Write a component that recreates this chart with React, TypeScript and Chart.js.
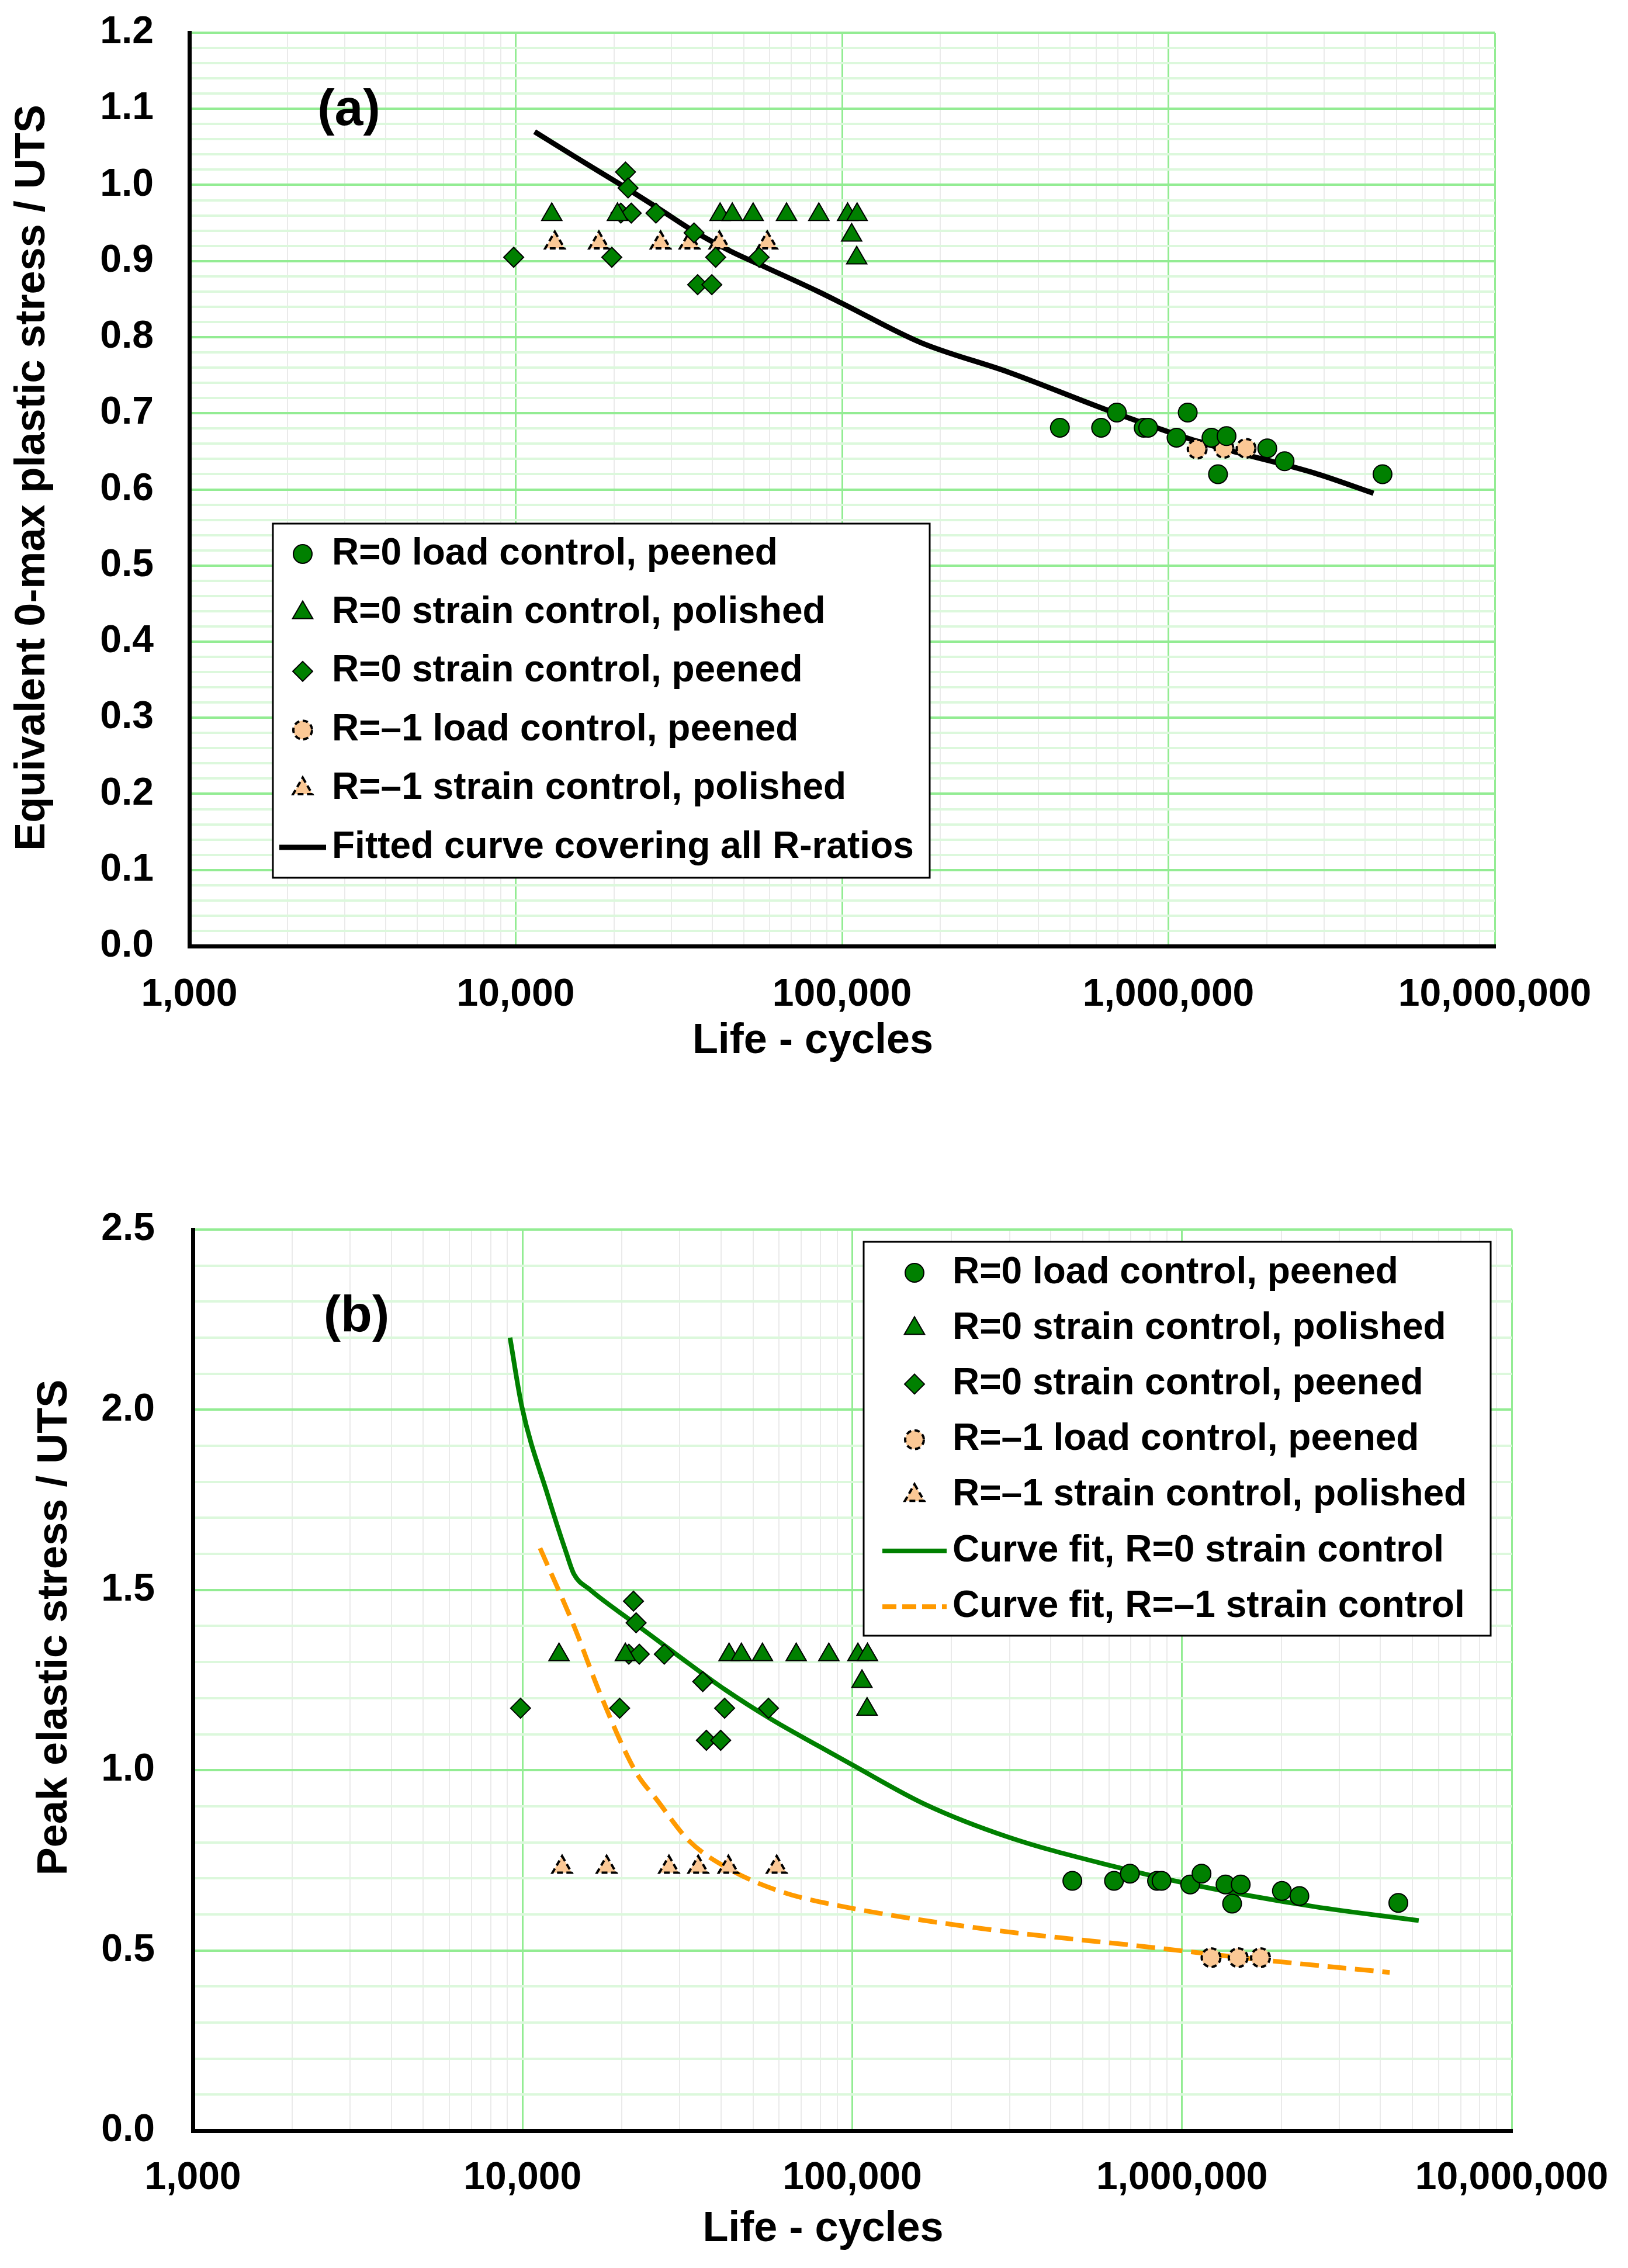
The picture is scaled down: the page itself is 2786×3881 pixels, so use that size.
import React, { useEffect, useRef } from 'react';
import { Chart, registerables } from 'chart.js';
import { drawPoint } from 'chart.js/helpers';

Chart.register(...registerables);

// ---------------- data ----------------
const xDecades = [1000, 10000, 100000, 1000000, 10000000];
const xTickLabels = ['1,000', '10,000', '100,000', '1,000,000', '10,000,000'];

const yLabelsA = [0, 0.1, 0.2, 0.3, 0.4, 0.5, 0.6, 0.7, 0.8, 0.9, 1.0, 1.1, 1.2];
const yLabelsB = [0, 0.5, 1.0, 1.5, 2.0, 2.5];

const seriesLabels = [
  'R=0 load control, peened',
  'R=0 strain control, polished',
  'R=0 strain control, peened',
  'R=\u20131 load control, peened',
  'R=\u20131 strain control, polished',
];
const fitLabelA = 'Fitted curve covering all R-ratios';
const fitLabelsB = ['Curve fit, R=0 strain control', 'Curve fit, R=\u20131 strain control'];

// R=0 load control, peened (circles)
const r0LoadLife = [465000, 622000, 695000, 840000, 867000, 1059000, 1146000, 1355000, 1507000, 1419000, 2009000, 2270000, 4530000];
const r0LoadA = [0.681, 0.681, 0.701, 0.681, 0.681, 0.668, 0.701, 0.668, 0.670, 0.620, 0.654, 0.637, 0.620];
const r0LoadB = [0.693, 0.693, 0.713, 0.693, 0.693, 0.683, 0.713, 0.683, 0.683, 0.630, 0.665, 0.651, 0.632];

// R=0 strain control, polished (triangles)
const r0StrainPolLife = [12900, 20500, 42300, 46100, 53400, 67600, 84900, 104000, 111200, 107000, 110900];
const r0StrainPolA = [0.961, 0.961, 0.961, 0.961, 0.961, 0.961, 0.961, 0.961, 0.961, 0.934, 0.904];
const r0StrainPolB = [1.32, 1.32, 1.32, 1.32, 1.32, 1.32, 1.32, 1.32, 1.32, 1.246, 1.169];

// R=0 strain control, peened (diamonds)
const r0StrainPeenLife = [9860, 19700, 21700, 22100, 21000, 22600, 26900, 35200, 41000, 36100, 39900, 55700];
const r0StrainPeenA = [0.905, 0.905, 1.017, 0.996, 0.963, 0.963, 0.963, 0.937, 0.905, 0.869, 0.869, 0.905];
const r0StrainPeenB = [1.172, 1.172, 1.469, 1.409, 1.322, 1.322, 1.322, 1.246, 1.172, 1.083, 1.083, 1.172];

// R=-1 load control, peened (peach circles)
const rm1LoadLife = [1225000, 1480000, 1730000];
const rm1LoadA = [0.653, 0.654, 0.654];
const rm1LoadB = [0.480, 0.480, 0.480];

// R=-1 strain control, polished (peach triangles)
const rm1StrainLife = [13180, 17990, 27800, 34100, 42100, 59000];
const rm1StrainA = [0.924, 0.924, 0.924, 0.924, 0.924, 0.924];
const rm1StrainB = [0.731, 0.731, 0.731, 0.731, 0.731, 0.731];

// Fitted curve (a)
const fitALife = [11430, 15070, 21800, 27200, 35200, 45500, 58900, 84500, 100500, 174000, 324000, 681000, 1274000, 2780000, 4250000];
const fitAValue = [1.070, 1.038, 0.996, 0.970, 0.939, 0.913, 0.891, 0.860, 0.844, 0.793, 0.754, 0.701, 0.661, 0.622, 0.595];

// Curve fit R=0 strain control (b)
const fitR0Life = [9160, 9950, 11940, 13550, 14320, 15960, 21780, 29720, 41210, 57150, 78700, 99100, 166700, 298500, 622300, 1069000, 2506000, 5224000];
const fitR0Value = [2.200, 2.009, 1.761, 1.605, 1.544, 1.502, 1.409, 1.317, 1.223, 1.140, 1.068, 1.017, 0.905, 0.814, 0.733, 0.683, 0.622, 0.583];

// Curve fit R=-1 strain control (b)
const fitRm1Life = [11300, 14320, 17180, 21900, 25640, 31920, 42660, 61380, 93500, 246000, 783000, 1702000, 4266000];
const fitRm1Value = [1.616, 1.400, 1.213, 1.000, 0.916, 0.805, 0.724, 0.662, 0.622, 0.561, 0.510, 0.475, 0.439];

// ---------------- styling ----------------
const FONT = '"Liberation Sans", Arial, Helvetica, sans-serif';
const GREEN = '#008000';
const PEACH = '#FBC895';
const ORANGE = '#FF9A00';
const GRID_MAIN = '#93EC93';
const GRID_MINOR = '#DCF8DC';
const GRID_X_MINOR = '#EAEAEA';

const pts = (xs: number[], ys: number[]) => xs.map((x, i) => ({ x, y: ys[i] }));

function markerSet(label: string, xs: number[], ys: number[], style: string, radius: number, fill: string, bw: number, dash?: number[]) {
  return {
    label,
    data: pts(xs, ys),
    showLine: false,
    pointStyle: style,
    pointRadius: radius,
    pointHoverRadius: radius,
    pointBackgroundColor: fill,
    pointBorderColor: '#000',
    pointBorderWidth: bw,
    pointHoverBorderWidth: bw,
    backgroundColor: fill,
    borderColor: '#000',
    markerDash: dash || null,
  };
}

function curveSet(label: string, xs: number[], ys: number[], color: string, width: number, dash?: number[]) {
  return {
    label,
    data: pts(xs, ys),
    showLine: true,
    pointRadius: 0,
    pointHoverRadius: 0,
    borderColor: color,
    backgroundColor: color,
    borderWidth: width,
    borderDash: dash || [],
    borderCapStyle: 'butt',
    cubicInterpolationMode: 'monotone',
    fill: false,
  };
}

function markerSets(ys: { load: number[]; pol: number[]; peen: number[]; rm1Load: number[]; rm1Strain: number[] }) {
  return [
    markerSet(seriesLabels[0], r0LoadLife, ys.load, 'circle', 16, GREEN, 2),
    markerSet(seriesLabels[1], r0StrainPolLife, ys.pol, 'triangle', 20, GREEN, 2),
    markerSet(seriesLabels[2], r0StrainPeenLife, ys.peen, 'rectRot', 17, GREEN, 2),
    markerSet(seriesLabels[3], rm1LoadLife, ys.rm1Load, 'circle', 16, PEACH, 4, [9, 6]),
    markerSet(seriesLabels[4], rm1StrainLife, ys.rm1Strain, 'triangle', 19, PEACH, 4, [10, 6]),
  ];
}

type Layout = {
  height: number;
  pad: { top: number; right: number; bottom: number };
  yWidth: number;
  xHeight: number;
  xTickPad: number;
  yTickPad: number;
  xTitlePad: number;
  yTitlePad: number;
  legend: { left: number; top: number; width: number; height: number; markerX: number; textX: number; lineX0: number; lineX1: number; row0: number; step: number };
  tag: { text: string; x: number; y: number };
};

function makePlugins(L: Layout) {
  const dashPlugin = {
    id: 'markerDash',
    beforeDatasetDraw(chart: any, args: any) {
      const ds = chart.data.datasets[args.index];
      chart.ctx.save();
      if (ds.markerDash) chart.ctx.setLineDash(ds.markerDash);
    },
    afterDatasetDraw(chart: any) {
      chart.ctx.restore();
    },
  };
  const legendPlugin = {
    id: 'boxLegend',
    afterDraw(chart: any) {
      const ctx = chart.ctx as CanvasRenderingContext2D;
      const g = L.legend;
      ctx.save();
      ctx.setLineDash([]);
      ctx.fillStyle = '#ffffff';
      ctx.fillRect(g.left, g.top, g.width, g.height);
      ctx.lineWidth = 3;
      ctx.strokeStyle = '#000';
      ctx.strokeRect(g.left, g.top, g.width, g.height);
      chart.data.datasets.forEach((ds: any, i: number) => {
        const y = g.row0 + i * g.step;
        ctx.save();
        if (ds.showLine) {
          ctx.strokeStyle = ds.borderColor;
          ctx.lineWidth = ds.borderWidth;
          ctx.lineCap = 'butt';
          ctx.setLineDash(ds.borderDash && ds.borderDash.length ? [24, 10] : []);
          ctx.beginPath();
          ctx.moveTo(g.lineX0, y);
          ctx.lineTo(g.lineX1, y);
          ctx.stroke();
        } else {
          ctx.setLineDash(ds.markerDash || []);
          ctx.fillStyle = ds.pointBackgroundColor;
          ctx.strokeStyle = ds.pointBorderColor;
          ctx.lineWidth = ds.pointBorderWidth;
          drawPoint(ctx, { pointStyle: ds.pointStyle, rotation: 0, radius: ds.pointRadius, borderWidth: ds.pointBorderWidth } as any, g.markerX, y);
        }
        ctx.restore();
        ctx.fillStyle = '#000';
        ctx.font = `bold 64px ${FONT}`;
        ctx.textAlign = 'left';
        ctx.textBaseline = 'middle';
        ctx.fillText(ds.label, g.textX, y);
      });
      ctx.restore();
    },
  };
  const tagPlugin = {
    id: 'panelTag',
    afterDraw(chart: any) {
      const ctx = chart.ctx as CanvasRenderingContext2D;
      ctx.save();
      ctx.fillStyle = '#000';
      ctx.font = `bold 88px ${FONT}`;
      ctx.textAlign = 'center';
      ctx.textBaseline = 'middle';
      ctx.fillText(L.tag.text, L.tag.x, L.tag.y);
      ctx.restore();
    },
  };
  return [dashPlugin, legendPlugin, tagPlugin];
}

function buildYTicks(mains: number[], subdiv: number) {
  const out: any[] = [];
  for (let i = 0; i < mains.length; i++) {
    out.push({ value: mains[i], isMain: true });
    if (i < mains.length - 1) {
      const step = (mains[i + 1] - mains[i]) / subdiv;
      for (let k = 1; k < subdiv; k++) out.push({ value: +(mains[i] + k * step).toFixed(6), isMain: false });
    }
  }
  return out;
}

function buildXTicks() {
  const out: any[] = [];
  xDecades.forEach((d, i) => {
    out.push({ value: d, isMain: true, text: xTickLabels[i] });
    if (i < xDecades.length - 1) for (let k = 2; k <= 9; k++) out.push({ value: d * k, isMain: false });
  });
  return out;
}

function makeConfig(L: Layout, datasets: any[], yMains: number[], xTitle: string, yTitle: string): any {
  const tickFont = { family: FONT, size: 66, weight: 'bold' };
  const titleFont = { family: FONT, size: 72, weight: 'bold' };
  return {
    type: 'scatter',
    data: { datasets },
    plugins: makePlugins(L),
    options: {
      responsive: false,
      animation: false,
      devicePixelRatio: 1,
      events: [],
      layout: { padding: { left: 0, top: L.pad.top, right: L.pad.right, bottom: L.pad.bottom } },
      plugins: { legend: { display: false }, tooltip: { enabled: false } },
      scales: {
        x: {
          type: 'logarithmic',
          position: 'bottom',
          min: xDecades[0],
          max: xDecades[xDecades.length - 1],
          afterBuildTicks: (s: any) => { s.ticks = buildXTicks(); },
          afterFit: (s: any) => { s.height = L.xHeight; s.paddingLeft = 0; s.paddingRight = 0; },
          grid: {
            drawTicks: false,
            tickLength: 0,
            color: (c: any) => (!c.tick || c.tick.value === xDecades[0] ? 'rgba(0,0,0,0)' : c.tick.isMain ? GRID_MAIN : GRID_X_MINOR),
            lineWidth: (c: any) => (c.tick && c.tick.isMain ? 3 : 2),
          },
          border: { display: true, color: '#000', width: 7 },
          ticks: {
            autoSkip: false,
            maxRotation: 0,
            minRotation: 0,
            padding: L.xTickPad,
            color: '#000',
            font: tickFont,
            callback: (_v: any, i: number, t: any[]) => (t[i].isMain ? t[i].text : ''),
          },
          title: { display: true, text: xTitle, color: '#000', font: titleFont, padding: { top: 0, bottom: L.xTitlePad } },
        },
        y: {
          type: 'linear',
          position: 'left',
          min: yMains[0],
          max: yMains[yMains.length - 1],
          afterBuildTicks: (s: any) => { s.ticks = buildYTicks(yMains, 5); },
          afterFit: (s: any) => { s.width = L.yWidth; s.paddingTop = 0; s.paddingBottom = 0; },
          grid: {
            drawTicks: false,
            tickLength: 0,
            color: (c: any) => (!c.tick || c.tick.value === yMains[0] ? 'rgba(0,0,0,0)' : c.tick.isMain ? GRID_MAIN : GRID_MINOR),
            lineWidth: 4,
          },
          border: { display: true, color: '#000', width: 7 },
          ticks: {
            autoSkip: false,
            padding: L.yTickPad,
            color: '#000',
            font: tickFont,
            callback: (v: any, i: number, t: any[]) => (t[i].isMain ? Number(v).toFixed(1) : ''),
          },
          title: { display: true, text: yTitle, color: '#000', font: titleFont, padding: { top: L.yTitlePad, bottom: 0 } },
        },
      },
    },
  };
}

const layoutA: Layout = {
  height: 1880,
  pad: { top: 56, right: 228, bottom: 41 },
  yWidth: 324,
  xHeight: 220,
  xTickPad: 44,
  yTickPad: 61,
  xTitlePad: 14,
  yTitlePad: 13,
  legend: { left: 467, top: 896, width: 1124, height: 606, markerX: 518, textX: 568, lineX0: 478, lineX1: 558, row0: 948, step: 100.4 },
  tag: { text: '(a)', x: 597, y: 190 },
};

const layoutB: Layout = {
  height: 1921,
  pad: { top: 144, right: 199, bottom: 15 },
  yWidth: 330,
  xHeight: 220,
  xTickPad: 42,
  yTickPad: 65,
  xTitlePad: 8,
  yTitlePad: 51,
  legend: { left: 1478, top: 165, width: 1073, height: 674, markerX: 1565, textX: 1630, lineX0: 1510, lineX1: 1620, row0: 218, step: 95.2 },
  tag: { text: '(b)', x: 610, y: 294 },
};

function configA() {
  const ds = [
    ...markerSets({ load: r0LoadA, pol: r0StrainPolA, peen: r0StrainPeenA, rm1Load: rm1LoadA, rm1Strain: rm1StrainA }),
    curveSet(fitLabelA, fitALife, fitAValue, '#000000', 9),
  ];
  return makeConfig(layoutA, ds, yLabelsA, 'Life - cycles     ', '  Equivalent 0-max plastic stress / UTS');
}

function configB() {
  const ds = [
    ...markerSets({ load: r0LoadB, pol: r0StrainPolB, peen: r0StrainPeenB, rm1Load: rm1LoadB, rm1Strain: rm1StrainB }),
    curveSet(fitLabelsB[0], fitR0Life, fitR0Value, GREEN, 8),
    curveSet(fitLabelsB[1], fitRm1Life, fitRm1Value, ORANGE, 8, [32, 15]),
  ];
  return makeConfig(layoutB, ds, yLabelsB, 'Life - cycles     ', '         Peak elastic stress / UTS');
}

function Panel({ top, height, build }: { top: number; height: number; build: () => any }) {
  const ref = useRef<HTMLCanvasElement | null>(null);
  useEffect(() => {
    if (!ref.current) return;
    const chart = new Chart(ref.current, build());
    return () => chart.destroy();
  }, []);
  return (
    <canvas
      ref={ref}
      width={2786}
      height={height}
      style={{ position: 'absolute', left: 0, top, width: 2786, height, display: 'block' }}
    />
  );
}

export default function App() {
  return (
    <div style={{ position: 'absolute', left: 0, top: 0, width: 2786, height: 3881, background: '#fff', overflow: 'hidden' }}>
      <Panel top={0} height={layoutA.height} build={configA} />
      <Panel top={1960} height={layoutB.height} build={configB} />
    </div>
  );
}
